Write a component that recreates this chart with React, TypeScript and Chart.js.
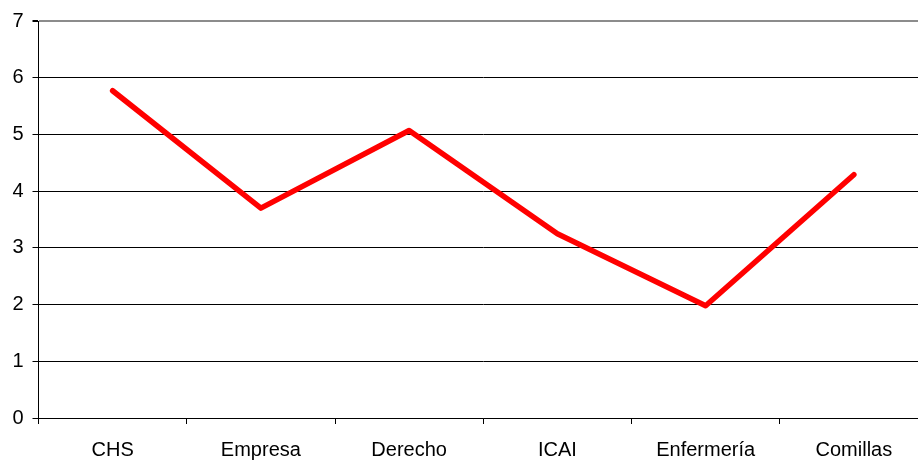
import React, { useEffect, useRef } from "react";
import { Chart, registerables } from "chart.js";

Chart.register(...registerables);

const categories = ["CHS", "Empresa", "Derecho", "ICAI", "Enfermería", "Comillas"];
const values = [5.77, 3.7, 5.07, 3.25, 1.98, 4.29];
const yMin = 0;
const yMax = 7;

export default function App() {
  const ref = useRef<HTMLCanvasElement | null>(null);
  useEffect(() => {
    const canvas = ref.current;
    if (!canvas) return;
    const font = { family: "'Liberation Sans', Arial, sans-serif", size: 20 };
    const chart = new Chart(canvas, {
      type: "line",
      data: {
        labels: categories,
        datasets: [
          {
            data: values,
            borderColor: "#ff0000",
            backgroundColor: "#ff0000",
            borderWidth: 5.5,
            pointRadius: 0,
            tension: 0,
            borderCapStyle: "round",
            borderJoinStyle: "round",
          },
        ],
      },
      options: {
        responsive: false,
        animation: false,
        devicePixelRatio: 1,
        layout: { padding: { top: 17, right: 12, bottom: 0, left: 0 } },
        plugins: { legend: { display: false }, tooltip: { enabled: false } },
        scales: {
          x: {
            type: "category",
            offset: true,
            grid: {
              offset: true,
              drawOnChartArea: false,
              drawTicks: true,
              tickLength: 6,
              color: "#000",
            },
            border: { color: "#000", width: 1 },
            ticks: { color: "#000", font, padding: 14, maxRotation: 0, autoSkip: false },
            afterFit: (s: any) => {
              s.height = 46;
            },
          },
          y: {
            min: yMin,
            max: yMax,
            ticks: { stepSize: 1, color: "#000", font, padding: 9 },
            grid: {
              color: (c: any) => (c.tick && c.tick.value === yMax ? "#8c8c8c" : "#000"),
              lineWidth: (c: any) => (c.tick && c.tick.value === yMax ? 2 : 1),
              tickLength: 6,
              tickColor: "#000",
            },
            border: { color: "#000", width: 1 },
            afterFit: (s: any) => {
              s.width = 38.5;
            },
          },
        },
      },
    });
    return () => chart.destroy();
  }, []);
  return (
    <div
      style={{
        position: "absolute",
        left: 0,
        top: 0,
        width: 918,
        height: 464,
        overflow: "hidden",
        background: "#fff",
      }}
    >
      <canvas ref={ref} width={940} height={464} style={{ display: "block", width: 940, height: 464 }} />
    </div>
  );
}
